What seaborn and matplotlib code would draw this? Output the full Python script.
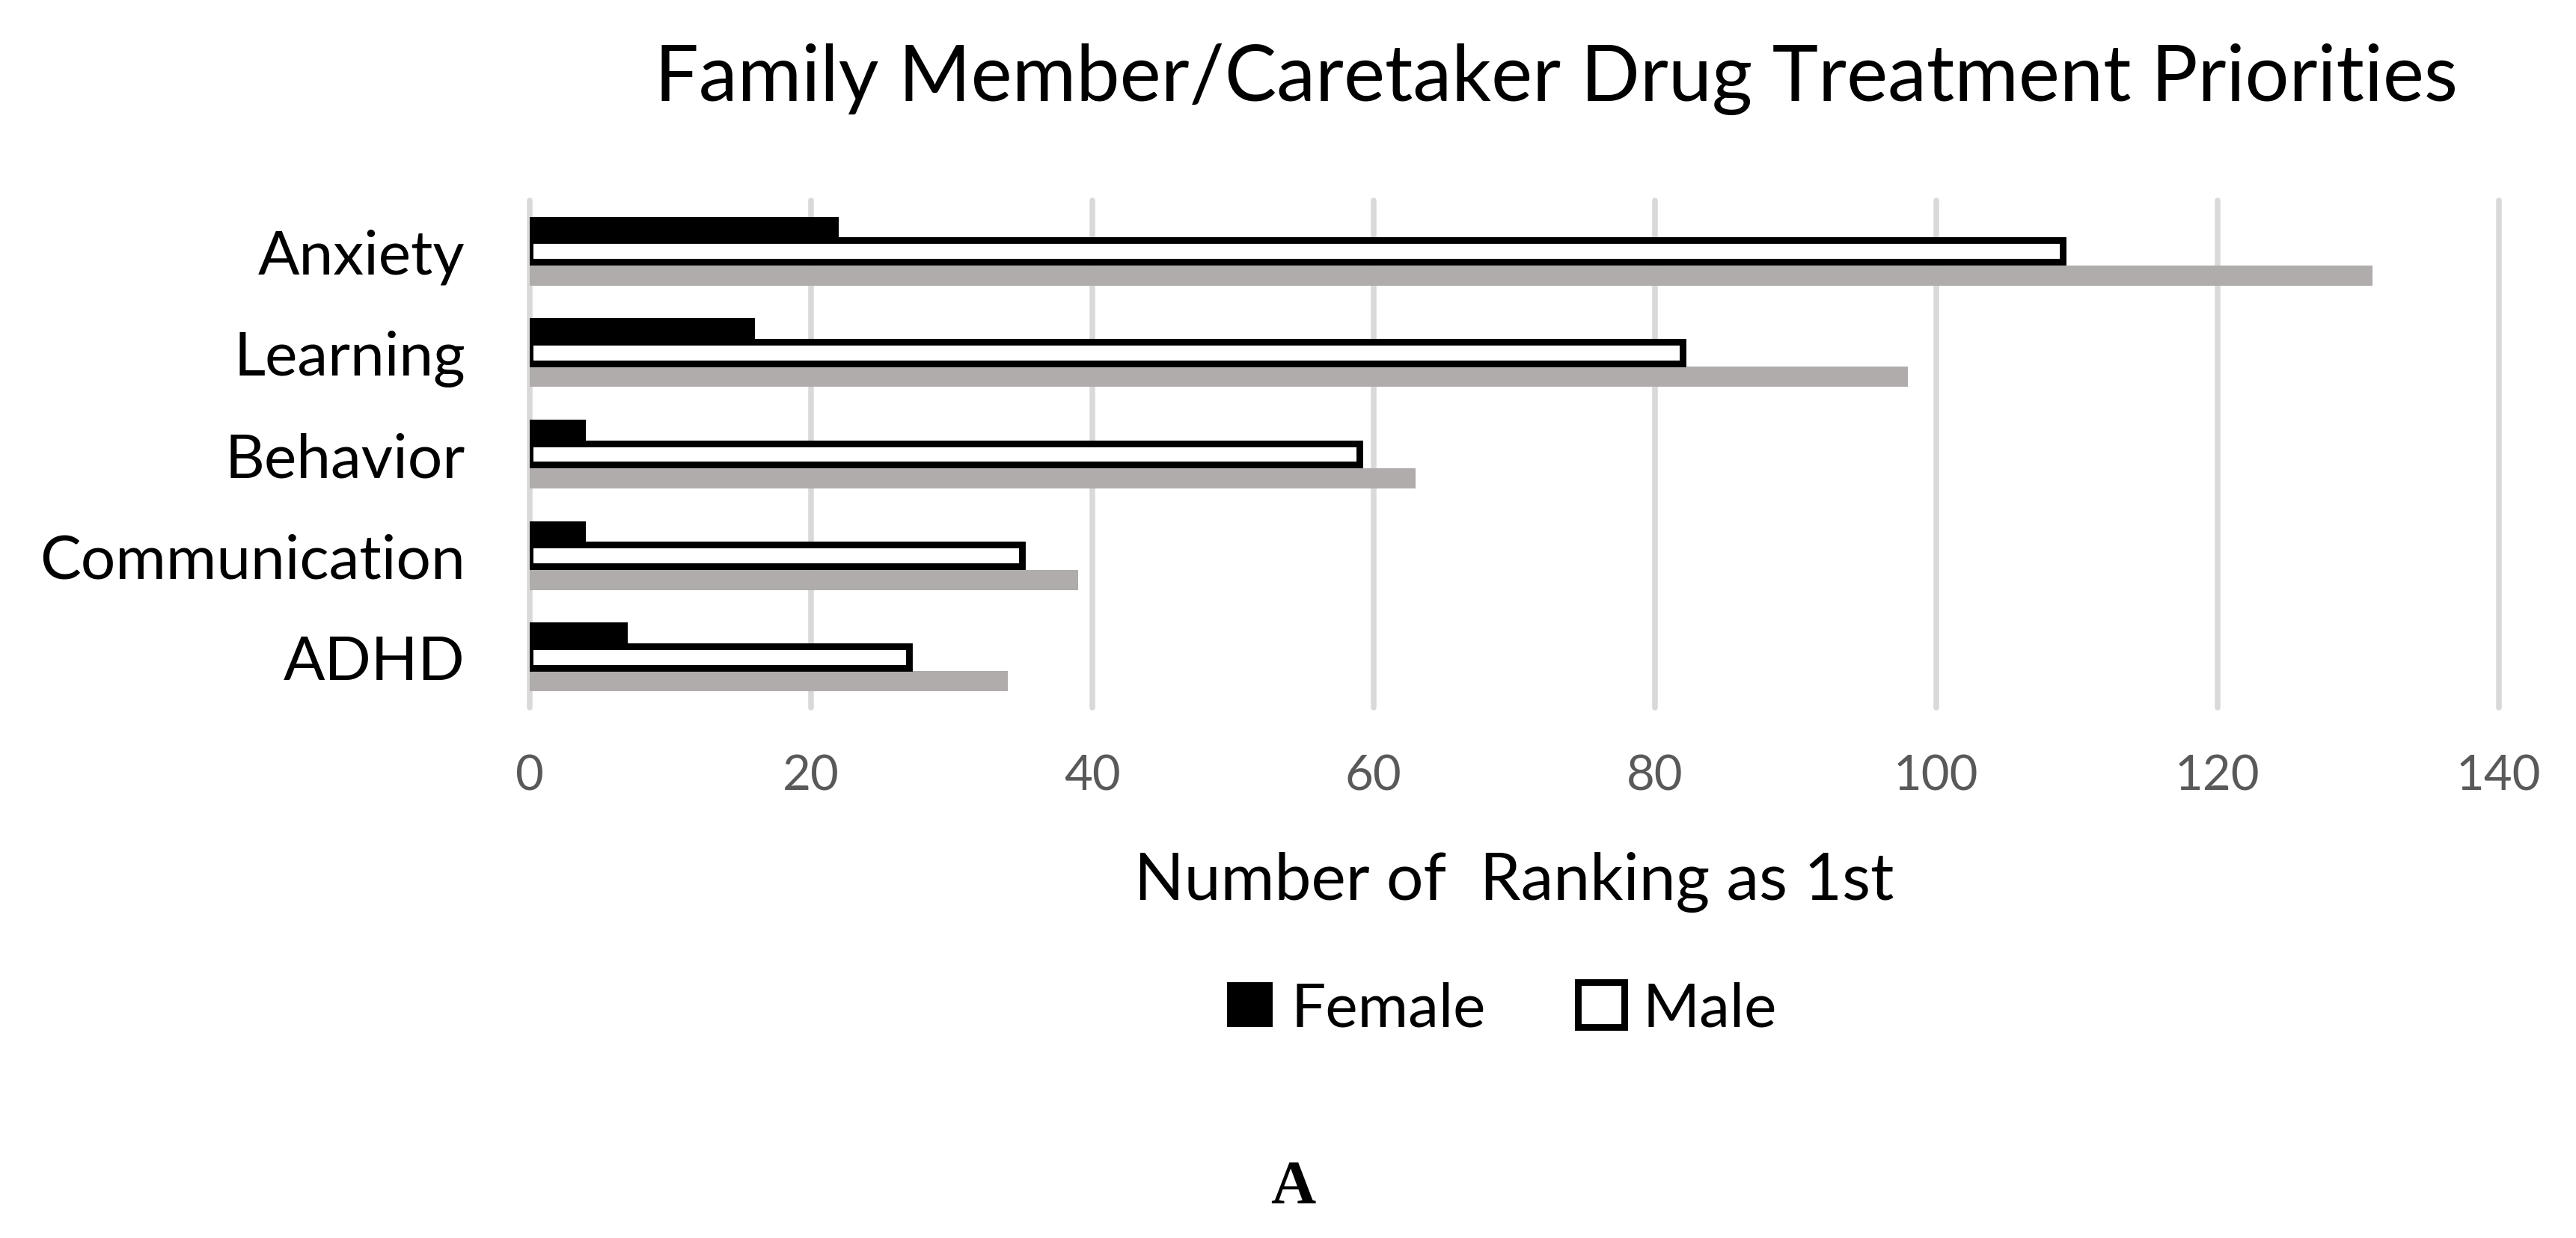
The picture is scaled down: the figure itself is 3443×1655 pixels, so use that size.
import pandas as pd
import matplotlib.pyplot as plt
from matplotlib.patches import Patch
import seaborn as sns

categories = ["Anxiety", "Learning", "Behavior", "Communication", "ADHD"]
female_counts = [22, 16, 4, 4, 7]
male_counts = [109, 82, 59, 35, 27]
total_counts = [131, 98, 63, 39, 34]
x_ticks = [0, 20, 40, 60, 80, 100, 120, 140]
series_order = ["Female", "Male", "Total"]

title_text = "Family Member/Caretaker Drug Treatment Priorities"
x_label = "Number of  Ranking as 1st"
panel_label = "A"

sns.set_theme(style="whitegrid")
plt.rcParams['font.family'] = ['Lato', 'DejaVu Sans']
plt.rcParams['text.color'] = 'black'

df = pd.DataFrame({
    "category": categories,
    "Female": female_counts,
    "Male": male_counts,
    "Total": total_counts,
}).melt(id_vars="category", var_name="series", value_name="count")

colors = {"Female": "black", "Male": "white", "Total": "#b0acab"}
# offset from category centre, bar thickness, edge width, zorder
bar_style = {
    "Female": (-0.21, 0.257, 0.0, 4),
    "Male": (0.0, 0.213, 3.2, 3),
    "Total": (0.24, 0.20, 0.0, 2),
}

fig = plt.figure(figsize=(17.215, 8.28), dpi=200)
ax = fig.add_axes([0.2056, 0.4281, 0.7644, 0.4095])

sns.barplot(data=df, x="count", y="category", hue="series",
            hue_order=series_order, order=categories, palette=colors,
            orient="y", dodge=True, width=0.675, gap=0, saturation=1,
            errorbar=None, legend=False, ax=ax)

for name, container in zip(series_order, ax.containers):
    offset, height, lw, z = bar_style[name]
    for patch in container.patches:
        idx = round(patch.get_y() + patch.get_height() / 2)
        patch.set_y(idx + offset - height / 2)
        patch.set_height(height)
        patch.set_linewidth(lw)
        patch.set_edgecolor("black" if lw > 0 else "none")
        patch.set_zorder(z)

ax.set_xlim(0, 140)
ax.set_ylim(4.5, -0.5)
ax.set_xticks(x_ticks)
ax.grid(axis="x", color="#d9d9d9", linewidth=2.7)
ax.grid(axis="y", visible=False)
for line in ax.get_xgridlines():
    line.set_clip_on(False)
ax.set_axisbelow(True)
for spine in ax.spines.values():
    spine.set_visible(False)

ax.tick_params(axis="x", length=0, pad=22, labelsize=23.5, labelcolor="#595959")
ax.tick_params(axis="y", length=0, pad=31, labelsize=29.5, labelcolor="black")
ax.set_ylabel("")
ax.set_xlabel(x_label, fontsize=31.5, color="black")
ax.xaxis.label.set_va("baseline")
ax.xaxis.set_label_coords(0.5, -0.378)

handles = [Patch(facecolor="black", edgecolor="black", linewidth=0),
           Patch(facecolor="white", edgecolor="black", linewidth=3.2)]
fig.legend(handles, ["Female", "Male"], loc="center", bbox_to_anchor=(0.583, 0.185),
           ncol=2, frameon=False, fontsize=29.5, handlelength=0.75, handleheight=0.75,
           handletextpad=0.3, columnspacing=1.5, labelcolor="black")

fig.text(0.604, 0.9185, title_text, fontsize=37.5, color="black",
         ha="center", va="baseline")
fig.text(0.502, 0.029, panel_label, fontsize=30, fontweight="bold", color="black",
         family=["Liberation Serif", "DejaVu Serif"], ha="center", va="baseline")

fig.savefig("out.png", dpi=200)
